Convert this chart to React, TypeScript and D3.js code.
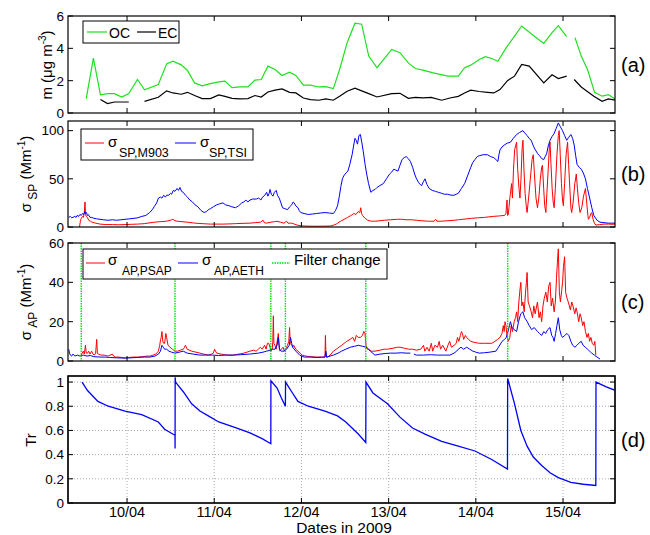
import React from 'react';
import * as d3 from 'd3';

type Pt = [number, number | null];

// x values are days of April 2009 (fractional)
const dayTicks = [10, 11, 12, 13, 14, 15];
const dayLabels = ['10/04', '11/04', '12/04', '13/04', '14/04', '15/04'];

const ticksA = [0, 2, 4, 6];
const ticksB = [0, 50, 100];
const ticksC = [0, 20, 40, 60];
const ticksD = [0, 0.2, 0.4, 0.6, 0.8, 1];
const labelsD = ['0', '0.2', '0.4', '0.6', '0.8', '1'];

const oc: Pt[] = [
  [9.532, 0.89], [9.614, 3.4], [9.695, 1.12], [9.776, 1.2], [9.857, 1.2], [9.938, 0.99], [10.02, 1.2],
  [10.12, 2.07], [10.201, 1.43], [10.359, 1.76], [10.454, 3.04], [10.526, 3.2], [10.622, 2.98], [10.693, 2.63],
  [10.775, 1.86], [10.861, 1.68], [10.956, 1.82], [11.052, 1.93], [11.123, 1.97], [11.205, 1.57], [11.291, 1.61],
  [11.386, 1.61], [11.467, 2.03], [11.539, 2.07], [11.616, 2.9], [11.697, 2.69], [11.778, 2.32], [11.864, 2.53],
  [11.936, 2.32], [12.022, 1.72], [12.103, 1.72], [12.199, 1.61], [12.28, 1.63], [12.366, 1.51], [12.438, 2.69],
  [12.524, 4.35], [12.614, 5.55], [12.691, 5.49], [12.772, 3.52], [12.867, 2.8], [13.035, 3.93], [13.13, 3.73],
  [13.226, 3.1], [13.307, 2.75], [13.393, 2.65], [13.512, 2.48], [13.68, 2.28], [13.799, 2.28], [13.871, 2.8],
  [13.942, 2.96], [14.039, 3.31], [14.11, 3.48], [14.182, 3.37], [14.253, 3.2], [14.349, 4.04], [14.444, 4.76],
  [14.526, 5.38], [14.635, 4.9], [14.779, 4.3], [14.874, 4.97], [14.946, 5.4], [15.042, 4.72], [15.09, null],
  [15.137, 4.66], [15.209, 3.52], [15.281, 2.69], [15.362, 1.28], [15.448, 1.04], [15.52, 1.14], [15.606, 0.83],
];

const ec: Pt[] = [
  [9.695, 0.83], [9.776, 0.58], [9.857, 0.68], [9.938, 0.68], [10.02, 0.68], [10.1, null], [10.201, 0.72],
  [10.359, 0.97], [10.454, 1.37], [10.526, 1.24], [10.622, 1.16], [10.693, 1.28], [10.775, 1.08], [10.861, 0.89],
  [10.956, 0.89], [11.052, 1.12], [11.123, 1.03], [11.205, 0.91], [11.291, 0.87], [11.386, 0.89], [11.467, 1.08],
  [11.539, 0.99], [11.616, 1.3], [11.697, 1.41], [11.778, 1.49], [11.864, 1.28], [11.936, 1.24], [12.022, 0.93],
  [12.103, 0.83], [12.199, 0.79], [12.28, 0.87], [12.366, 0.79], [12.438, 1.03], [12.524, 1.35], [12.614, 1.53],
  [12.691, 1.37], [12.772, 1.2], [12.867, 0.99], [13.035, 1.2], [13.13, 1.22], [13.226, 0.91], [13.307, 0.97],
  [13.393, 0.93], [13.488, 0.97], [13.608, 0.79], [13.703, 0.93], [13.799, 1.03], [13.871, 1.24], [13.942, 1.41],
  [14.039, 1.33], [14.134, 1.28], [14.206, 1.24], [14.277, 1.45], [14.363, 2.0], [14.444, 2.28], [14.526, 3.0],
  [14.612, 2.9], [14.779, 1.86], [14.874, 2.36], [14.946, 2.13], [15.042, 2.28], [15.09, null], [15.128, 2.07],
  [15.209, 1.61], [15.353, 1.04], [15.448, 0.72], [15.52, 0.87], [15.606, 0.79],
];

const spTSI: Pt[] = [
  [9.332, 10], [9.35, 11], [9.365, 9.5], [9.38, 10], [9.4, 11], [9.415, 10], [9.427, 12], [9.445, 11], [9.46, 13],
  [9.475, 12], [9.49, 14], [9.505, 13], [9.515, 16], [9.523, 14], [9.535, 15], [9.545, 12], [9.556, 13], [9.575, 10],
  [9.594, 10], [9.62, 9], [9.65, 8.5], [9.69, 8], [9.73, 7.5], [9.78, 7], [9.833, 7.5], [9.88, 7], [9.93, 7.5],
  [9.977, 8], [10.03, 8.5], [10.08, 9], [10.12, 9.5], [10.17, 11], [10.216, 12], [10.26, 15], [10.29, 18],
  [10.311, 21], [10.34, 25], [10.36, 30], [10.383, 31], [10.4, 30], [10.42, 33], [10.44, 31], [10.454, 33],
  [10.48, 33], [10.5, 35], [10.512, 34], [10.53, 38], [10.55, 37], [10.574, 40], [10.59, 38], [10.607, 41],
  [10.625, 37], [10.645, 36], [10.67, 33], [10.693, 31], [10.72, 28], [10.75, 26], [10.78, 23], [10.812, 21],
  [10.85, 17], [10.884, 15], [10.91, 16], [10.935, 18], [10.956, 19], [10.99, 21], [11.028, 23], [11.06, 24],
  [11.1, 25], [11.13, 23], [11.171, 22], [11.2, 21], [11.243, 20], [11.28, 22], [11.315, 25], [11.34, 26],
  [11.363, 28], [11.385, 26], [11.41, 28], [11.44, 29], [11.482, 29], [11.51, 30], [11.535, 28], [11.554, 31],
  [11.58, 33], [11.601, 36], [11.615, 32], [11.63, 35], [11.64, 39], [11.655, 34], [11.673, 32], [11.69, 36],
  [11.711, 38], [11.725, 33], [11.745, 30], [11.765, 25], [11.783, 20], [11.81, 19], [11.84, 18], [11.865, 21],
  [11.888, 23], [11.905, 26], [11.917, 25], [11.935, 22], [11.96, 20], [11.975, 17], [11.993, 15], [12.03, 14],
  [12.079, 13], [12.13, 13.5], [12.175, 14], [12.22, 14.5], [12.27, 15], [12.32, 14.5], [12.366, 14], [12.39, 17],
  [12.414, 22], [12.435, 32], [12.452, 42], [12.47, 50], [12.485, 53], [12.51, 56], [12.533, 58], [12.555, 65],
  [12.581, 75], [12.598, 84], [12.614, 92], [12.628, 90], [12.643, 86], [12.66, 95], [12.676, 96], [12.692, 88],
  [12.71, 78], [12.73, 65], [12.748, 55], [12.77, 45], [12.796, 36], [12.82, 38], [12.845, 39], [12.867, 41],
  [12.9, 43], [12.939, 45], [12.975, 50], [13.011, 55], [13.035, 57], [13.059, 60], [13.083, 59], [13.107, 58],
  [13.13, 64], [13.154, 70], [13.178, 72], [13.202, 73], [13.226, 71], [13.25, 68], [13.275, 62], [13.298, 55],
  [13.32, 50], [13.345, 46], [13.362, 44], [13.379, 43], [13.398, 47], [13.417, 50], [13.44, 44], [13.465, 40],
  [13.5, 38], [13.537, 37], [13.57, 36], [13.608, 35], [13.64, 34], [13.68, 34], [13.715, 33], [13.751, 33],
  [13.775, 34], [13.799, 35], [13.835, 40], [13.871, 45], [13.905, 53], [13.942, 62], [13.965, 67], [13.99, 70],
  [14.015, 73], [14.039, 74], [14.085, 75], [14.134, 75], [14.17, 73], [14.206, 72], [14.23, 70], [14.253, 68],
  [14.265, 75], [14.277, 80], [14.3, 83], [14.325, 85], [14.36, 87], [14.397, 88], [14.43, 92], [14.468, 96],
  [14.5, 98], [14.54, 100], [14.565, 97], [14.588, 95], [14.61, 92], [14.635, 90], [14.66, 84], [14.683, 80],
  [14.71, 76], [14.731, 74], [14.755, 71], [14.779, 70], [14.795, 73], [14.812, 76], [14.83, 84], [14.851, 90],
  [14.875, 94], [14.898, 97], [14.92, 102], [14.946, 108], [14.97, 104], [14.994, 100], [15.018, 95], [15.042, 90],
  [15.065, 93], [15.09, 96], [15.11, 92], [15.128, 85], [15.145, 74], [15.161, 65], [15.185, 62], [15.209, 60],
  [15.233, 56], [15.257, 50], [15.28, 40], [15.305, 30], [15.33, 20], [15.353, 12], [15.39, 7], [15.424, 5],
  [15.47, 4.5], [15.52, 4], [15.56, 4], [15.596, 4],
];

const spM903: Pt[] = [
  [9.455, 0], [9.465, 6], [9.475, 9], [9.49, 11], [9.5, 10], [9.51, 15], [9.518, 26], [9.524, 13], [9.532, 11],
  [9.545, 10], [9.56, 7], [9.58, 6], [9.6, 5], [9.64, 4], [9.69, 3], [9.76, 2.5], [9.833, 2.5], [9.9, 2.3],
  [9.977, 2.5], [10.05, 2.8], [10.12, 3], [10.2, 3.5], [10.311, 5], [10.38, 5.5], [10.45, 6], [10.5, 7],
  [10.526, 8], [10.55, 6.5], [10.574, 6], [10.63, 5.5], [10.693, 5], [10.78, 4], [10.86, 3.5], [10.956, 3],
  [11.03, 3], [11.1, 3], [11.17, 3.2], [11.243, 3.5], [11.33, 3.8], [11.41, 4], [11.47, 4.5], [11.53, 5],
  [11.56, 7], [11.575, 4.5], [11.6, 4], [11.65, 5], [11.69, 5.5], [11.72, 6], [11.76, 5], [11.8, 4], [11.83, 6],
  [11.845, 4], [11.888, 4], [11.92, 3], [11.95, 2], [12.0, 1.2], [12.05, 1], [12.12, 0.8], [12.2, 0.8],
  [12.27, 0.9], [12.33, 1], [12.37, 2], [12.4, 3], [12.43, 5], [12.45, 6], [12.49, 8], [12.53, 10], [12.57, 12],
  [12.6, 14], [12.625, 13], [12.65, 16], [12.67, 15], [12.68, 20], [12.69, 14], [12.7, 12], [12.73, 9],
  [12.76, 7], [12.8, 6], [12.85, 6], [12.9, 6.5], [12.95, 7], [13.02, 7.5], [13.1, 8], [13.15, 8], [13.2, 7.5],
  [13.26, 7.5], [13.32, 7], [13.38, 6.5], [13.45, 6], [13.52, 6], [13.54, 8], [13.555, 6], [13.6, 6], [13.68, 6.5],
  [13.75, 7], [13.8, 7.5], [13.85, 8], [13.9, 8.5], [13.95, 9], [14.02, 9.5], [14.1, 10], [14.15, 10.5], [14.2, 11],
  [14.27, 11.5], [14.33, 12], [14.345, 14], [14.352, 22], [14.358, 28], [14.364, 12], [14.372, 13], [14.38, 20],
  [14.39, 30], [14.397, 35], [14.41, 45], [14.42, 30], [14.432, 60], [14.445, 80], [14.458, 85], [14.468, 88],
  [14.48, 60], [14.495, 40], [14.506, 30], [14.518, 50], [14.53, 80], [14.54, 90], [14.552, 60], [14.565, 35],
  [14.578, 22], [14.588, 15], [14.605, 30], [14.625, 50], [14.645, 70], [14.659, 75], [14.672, 55], [14.69, 30],
  [14.707, 20], [14.722, 30], [14.74, 50], [14.755, 62], [14.764, 64], [14.778, 40], [14.79, 22], [14.803, 15],
  [14.815, 35], [14.83, 60], [14.845, 85], [14.851, 88], [14.862, 65], [14.875, 40], [14.888, 25], [14.898, 20],
  [14.912, 40], [14.93, 75], [14.946, 95], [14.956, 100], [14.968, 75], [14.982, 45], [14.994, 28], [15.004, 22],
  [15.018, 45], [15.035, 75], [15.052, 88], [15.064, 65], [15.078, 40], [15.09, 20], [15.099, 15], [15.115, 25],
  [15.135, 45], [15.152, 55], [15.165, 40], [15.18, 25], [15.195, 15], [15.215, 20], [15.235, 32], [15.257, 40],
  [15.272, 25], [15.285, 12], [15.291, 8], [15.305, 10], [15.32, 14], [15.329, 15], [15.345, 8], [15.36, 4],
  [15.376, 2], [15.42, 2.5], [15.47, 3], [15.52, 3], [15.56, 2.8], [15.596, 3],
];

const apPSAP: Pt[] = [
  [9.475, 3], [9.485, 4], [9.499, 5], [9.51, 3.5], [9.523, 8], [9.532, 4], [9.547, 4], [9.56, 5], [9.575, 3.5],
  [9.594, 5], [9.61, 3.5], [9.624, 3], [9.64, 4], [9.652, 11], [9.66, 4], [9.671, 3.5], [9.7, 3], [9.738, 3],
  [9.78, 2.5], [9.833, 3.5], [9.845, 2.5], [9.862, 2], [9.9, 2], [9.94, 1.8], [9.977, 1.5], [10.02, 1.8],
  [10.07, 2], [10.12, 2], [10.18, 2.2], [10.23, 2.5], [10.263, 2.5], [10.3, 3], [10.33, 3.5], [10.359, 5],
  [10.375, 8], [10.385, 11], [10.392, 12], [10.4, 15], [10.41, 10], [10.42, 9], [10.431, 9], [10.445, 14],
  [10.454, 12], [10.47, 8], [10.493, 7], [10.52, 6], [10.55, 5], [10.58, 5], [10.61, 5.5], [10.645, 6],
  [10.66, 7], [10.669, 8], [10.69, 6], [10.741, 5], [10.79, 4.5], [10.836, 4], [10.88, 3.5], [10.932, 3],
  [10.97, 3.5], [10.99, 4], [11.004, 6], [11.015, 5], [11.028, 4], [11.08, 3.5], [11.15, 3], [11.219, 3],
  [11.28, 3.5], [11.34, 4], [11.41, 5], [11.45, 5.5], [11.48, 5], [11.506, 6], [11.53, 7], [11.55, 6],
  [11.578, 8], [11.595, 6], [11.61, 9], [11.625, 9], [11.64, 7], [11.649, 5], [11.665, 6], [11.672, 10],
  [11.678, 23], [11.684, 9], [11.697, 8], [11.71, 6], [11.722, 10], [11.735, 14], [11.745, 7], [11.754, 5],
  [11.77, 6], [11.79, 7], [11.805, 5], [11.816, 6], [11.83, 7], [11.84, 8], [11.855, 10], [11.864, 17],
  [11.872, 9], [11.888, 8], [11.9, 7], [11.912, 8], [11.935, 6], [11.96, 5], [11.985, 4], [12.008, 3],
  [12.05, 2.5], [12.1, 2.2], [12.175, 2], [12.23, 2], [12.27, 2], [12.275, 13], [12.282, 2], [12.299, 2],
  [12.33, 3], [12.366, 5], [12.4, 6], [12.43, 7], [12.462, 8], [12.49, 9], [12.52, 10], [12.557, 11], [12.59, 12],
  [12.61, 10], [12.629, 13], [12.65, 12], [12.676, 12], [12.7, 13], [12.715, 15], [12.729, 14], [12.74, 8],
  [12.755, 6], [12.772, 6], [12.8, 5], [12.843, 5], [12.9, 5.5], [12.95, 6], [12.987, 6], [13.05, 6.5], [13.1, 7],
  [13.13, 7], [13.18, 6.5], [13.23, 6], [13.274, 6], [13.32, 5.5], [13.369, 6], [13.4, 8], [13.415, 5], [13.44, 7],
  [13.465, 5], [13.49, 9], [13.505, 5], [13.53, 8], [13.561, 7], [13.58, 10], [13.595, 6], [13.62, 8], [13.656, 5],
  [13.68, 8], [13.7, 10], [13.72, 7], [13.751, 8], [13.775, 9], [13.79, 12], [13.805, 10], [13.823, 13],
  [13.835, 15], [13.847, 14], [13.86, 11], [13.88, 13], [13.895, 12], [13.915, 11], [13.942, 10], [13.98, 9.5],
  [14.039, 9], [14.1, 9], [14.182, 9], [14.22, 10], [14.25, 11], [14.277, 12], [14.3, 14], [14.315, 18],
  [14.325, 15], [14.335, 20], [14.345, 18], [14.36, 12], [14.373, 10], [14.39, 12], [14.405, 18], [14.42, 15],
  [14.44, 20], [14.455, 22], [14.468, 25], [14.48, 20], [14.49, 28], [14.503, 35], [14.516, 40], [14.528, 28],
  [14.54, 30], [14.555, 25], [14.57, 35], [14.58, 40], [14.588, 45], [14.6, 30], [14.615, 28], [14.635, 25],
  [14.65, 22], [14.665, 28], [14.68, 24], [14.707, 30], [14.725, 22], [14.74, 25], [14.755, 20], [14.77, 28],
  [14.785, 32], [14.803, 35], [14.82, 30], [14.835, 38], [14.851, 40], [14.865, 28], [14.88, 32], [14.898, 25],
  [14.912, 30], [14.925, 42], [14.935, 50], [14.946, 57], [14.958, 35], [14.97, 30], [14.985, 36], [14.995, 40],
  [15.005, 48], [15.018, 53], [15.03, 35], [15.045, 32], [15.06, 30], [15.085, 26], [15.1, 30], [15.114, 28],
  [15.135, 24], [15.15, 27], [15.161, 25], [15.18, 20], [15.195, 24], [15.209, 22], [15.225, 18], [15.24, 20],
  [15.257, 15], [15.275, 12], [15.29, 14], [15.305, 10], [15.32, 12], [15.335, 9], [15.353, 8], [15.365, 10],
  [15.376, 3],
];

const apAETH: Pt[] = [
  [9.332, 6], [9.34, 4], [9.35, 3], [9.365, 2.5], [9.38, 3.5], [9.403, 2.5], [9.43, 3], [9.46, 2.5], [9.499, 3],
  [9.54, 2.5], [9.58, 2.8], [9.62, 2.2], [9.69, 2], [9.75, 2], [9.8, 1.8], [9.88, 1.6], [9.977, 1.5], [10.05, 1.6],
  [10.12, 1.8], [10.2, 2], [10.263, 2], [10.32, 2.5], [10.36, 3.5], [10.383, 5], [10.4, 8], [10.416, 7],
  [10.43, 6], [10.454, 6], [10.48, 5], [10.51, 4.5], [10.55, 4], [10.6, 4.5], [10.645, 5], [10.69, 4],
  [10.76, 3.5], [10.836, 3], [10.9, 3], [10.98, 3], [11.05, 2.8], [11.13, 3], [11.219, 3], [11.3, 3.2],
  [11.4, 3.5], [11.506, 4], [11.56, 4.5], [11.601, 5], [11.64, 5.5], [11.67, 6], [11.697, 6], [11.72, 8],
  [11.735, 12], [11.748, 6], [11.768, 5], [11.8, 5], [11.83, 6], [11.86, 8], [11.875, 12], [11.888, 9],
  [11.9, 7], [11.936, 5], [11.98, 3], [12.032, 2], [12.1, 2], [12.18, 1.8], [12.27, 2], [12.28, 5], [12.29, 2],
  [12.366, 3], [12.42, 4], [12.46, 5], [12.509, 6], [12.56, 7], [12.61, 7.5], [12.652, 8], [12.7, 7.5],
  [12.748, 7], [12.79, 5], [12.843, 3], [12.9, 3.5], [12.96, 3.8], [13.02, 4], [13.083, 4], [13.15, 4.2],
  [13.2, 4], [13.25, 4], [13.27, null], [13.29, 3.5], [13.321, 3], [13.4, 3], [13.48, 3.2], [13.561, 3],
  [13.64, 3], [13.703, 3], [13.75, 4], [13.78, 5], [13.799, 6], [13.83, 7], [13.86, 6], [13.895, 7], [13.93, 6],
  [13.966, 5], [14.0, 4.5], [14.039, 4], [14.1, 4.2], [14.16, 4.5], [14.23, 5], [14.26, 7], [14.301, 10],
  [14.33, 11], [14.349, 12], [14.37, 15], [14.385, 18], [14.397, 20], [14.415, 17], [14.44, 16], [14.468, 15],
  [14.49, 20], [14.515, 24], [14.54, 25], [14.56, 22], [14.59, 20], [14.612, 18], [14.64, 16], [14.67, 17],
  [14.707, 15], [14.73, 14], [14.755, 13], [14.78, 15], [14.8, 14], [14.825, 16], [14.851, 17], [14.87, 13],
  [14.885, 12], [14.898, 10], [14.915, 14], [14.93, 18], [14.946, 22], [14.962, 16], [14.98, 13], [14.994, 12],
  [15.02, 13], [15.045, 14], [15.066, 13], [15.09, 10], [15.11, 8], [15.137, 7], [15.16, 8], [15.18, 9],
  [15.209, 10], [15.23, 8], [15.255, 7], [15.281, 6], [15.305, 5], [15.329, 4], [15.36, 3], [15.39, 2], [15.424, 1],
];

const filterChanges = [9.475, 10.55, 11.649, 11.816, 12.738, 14.365];

const tr: Pt[] = [
  [9.484, 1.0], [9.547, 0.93], [9.666, 0.84], [9.785, 0.8], [9.977, 0.76], [10.168, 0.73], [10.359, 0.67],
  [10.431, 0.61], [10.55, 0.56], [10.551, 0.45], [10.552, 1.04], [10.556, 1.0], [10.645, 0.92], [10.741, 0.82],
  [10.836, 0.76], [10.932, 0.72], [11.052, 0.67], [11.219, 0.63], [11.41, 0.58], [11.554, 0.53], [11.649, 0.49],
  [11.65, 1.01], [11.721, 0.95], [11.769, 0.87], [11.816, 0.8], [11.818, 1.0], [11.888, 0.92], [11.96, 0.84],
  [12.079, 0.8], [12.27, 0.76], [12.414, 0.72], [12.509, 0.67], [12.652, 0.57], [12.738, 0.5], [12.74, 1.0],
  [12.82, 0.91], [12.987, 0.82], [13.13, 0.71], [13.274, 0.62], [13.417, 0.57], [13.608, 0.51], [13.799, 0.47],
  [13.99, 0.43], [14.182, 0.36], [14.363, 0.28], [14.365, 1.03], [14.444, 0.82], [14.516, 0.6], [14.588, 0.47],
  [14.659, 0.38], [14.755, 0.31], [14.851, 0.25], [14.946, 0.21], [15.09, 0.17], [15.233, 0.155], [15.376, 0.145],
  [15.378, 1.0], [15.496, 0.96], [15.606, 0.93],
];

const font = "'Liberation Sans', Arial, Helvetica, sans-serif";
const X0 = 68;
const X1 = 615;
const x = d3.scaleLinear().domain([9.323, 15.596]).range([X0, X1]);

const yA = d3.scaleLinear().domain([0, 6]).range([113, 16]);
const yB = d3.scaleLinear().domain([0, 110]).range([227, 121]);
const yC = d3.scaleLinear().domain([0, 60]).range([361, 243]);
const yD = d3.scaleLinear().domain([0, 1.05]).range([503, 376]);

function path(data: Pt[], y: d3.ScaleLinear<number, number>) {
  return d3.line<Pt>()
    .defined(d => d[1] != null)
    .x(d => x(d[0]))
    .y(d => y(d[1] as number))(data) || '';
}

function Frame(props: {
  y: d3.ScaleLinear<number, number>; ticks: number[]; labels?: string[]; tag: string; grid?: boolean;
}) {
  const { y, ticks, labels, tag, grid } = props;
  const [bottom, top] = y.range();
  const tl = 5;
  return (
    <g>
      {grid && dayTicks.map(d => (
        <line key={'gx' + d} x1={x(d)} x2={x(d)} y1={top} y2={bottom} stroke="#aaa" strokeDasharray="1 2" />
      ))}
      {grid && ticks.filter(t => t > 0).map(t => (
        <line key={'gy' + t} x1={X0} x2={X1} y1={y(t)} y2={y(t)} stroke="#aaa" strokeDasharray="1 2" />
      ))}
      <rect x={X0} y={top} width={X1 - X0} height={bottom - top} fill="none" stroke="#000" strokeWidth={1.2} />
      {dayTicks.map(d => (
        <g key={'t' + d}>
          <line x1={x(d)} x2={x(d)} y1={bottom} y2={bottom - tl} stroke="#000" />
          <line x1={x(d)} x2={x(d)} y1={top} y2={top + tl} stroke="#000" />
        </g>
      ))}
      {ticks.map((t, i) => (
        <g key={'y' + t}>
          <line x1={X0} x2={X0 + tl} y1={y(t)} y2={y(t)} stroke="#000" />
          <line x1={X1} x2={X1 - tl} y1={y(t)} y2={y(t)} stroke="#000" />
          <text x={X0 - 4} y={y(t)} dy="0.36em" textAnchor="end" fontSize={13.5}>
            {labels ? labels[i] : String(t)}
          </text>
        </g>
      ))}
      <text x={621} y={(top + bottom) / 2} dy="0.36em" fontSize={20}>{tag}</text>
    </g>
  );
}

export default function App() {
  const [cBottom, cTop] = yC.range();
  return (
    <svg width={650} height={535} style={{ position: 'absolute', left: 0, top: 0, background: '#fff' }}
      fontFamily={font}>
      <defs>
        {[['ca', yA], ['cb', yB], ['cc', yC], ['cd', yD]].map(([id, y]: any) => (
          <clipPath id={id} key={id}>
            <rect x={X0} y={y.range()[1]} width={X1 - X0} height={y.range()[0] - y.range()[1]} />
          </clipPath>
        ))}
      </defs>

      {/* (a) OC / EC */}
      <g clipPath="url(#ca)">
        <path d={path(oc, yA)} fill="none" stroke="#1ee01e" strokeWidth={1.2} />
        <path d={path(ec, yA)} fill="none" stroke="#000" strokeWidth={1.2} />
      </g>
      <Frame y={yA} ticks={ticksA} tag="(a)" />
      <g>
        <rect x={83} y={21} width={96} height={22} fill="#fff" stroke="#000" />
        <line x1={87} x2={107} y1={32} y2={32} stroke="#1ee01e" strokeWidth={1.2} />
        <text x={109} y={37.5} fontSize={14}>OC</text>
        <line x1={137} x2={156} y1={32} y2={32} stroke="#000" strokeWidth={1.2} />
        <text x={158} y={37.5} fontSize={14}>EC</text>
      </g>
      <text transform="translate(52,65) rotate(-90)" textAnchor="middle" fontSize={15}>
        m (μg m<tspan dy={-6} fontSize={10}>-3</tspan><tspan dy={6}>)</tspan>
      </text>

      {/* (b) scattering */}
      <g clipPath="url(#cb)">
        <path d={path(spM903, yB)} fill="none" stroke="#f00" strokeWidth={1} />
        <path d={path(spTSI, yB)} fill="none" stroke="#00f" strokeWidth={1} />
      </g>
      <Frame y={yB} ticks={ticksB} tag="(b)" />
      <g>
        <rect x={81} y={129} width={172} height={31} fill="#fff" stroke="#000" />
        <line x1={85} x2={104} y1={143} y2={143} stroke="#f00" />
        <text x={108} y={147} fontSize={15}>σ</text>
        <text x={119} y={157} fontSize={12.5}>SP,M903</text>
        <line x1={175} x2={196} y1={143} y2={143} stroke="#00f" />
        <text x={200} y={147} fontSize={15}>σ</text>
        <text x={209} y={157} fontSize={12.5}>SP,TSI</text>
      </g>
      <text transform="translate(31,174) rotate(-90)" textAnchor="middle" fontSize={15}>
        σ<tspan dy={6} fontSize={12}> SP</tspan><tspan dy={-6}> (Mm</tspan>
        <tspan dy={-6} fontSize={10}>-1</tspan><tspan dy={6}>)</tspan>
      </text>

      {/* (c) absorption */}
      <g clipPath="url(#cc)">
        <path d={path(apPSAP, yC)} fill="none" stroke="#f00" strokeWidth={1} />
        <path d={path(apAETH, yC)} fill="none" stroke="#00f" strokeWidth={1} />
        {filterChanges.map(d => (
          <line key={d} x1={x(d)} x2={x(d)} y1={cTop} y2={cBottom} stroke="#00e000" strokeWidth={1.4}
            strokeDasharray="1.5 1" />
        ))}
      </g>
      <Frame y={yC} ticks={ticksC} tag="(c)" />
      <g>
        <rect x={83} y={249} width={304} height={30} fill="#fff" stroke="#000" />
        <line x1={86} x2={105} y1={263} y2={263} stroke="#f00" />
        <text x={108} y={265} fontSize={15}>σ</text>
        <text x={122} y={275} fontSize={12}>AP,PSAP</text>
        <line x1={178} x2={198} y1={263} y2={263} stroke="#00f" />
        <text x={202} y={265} fontSize={15}>σ</text>
        <text x={214} y={275} fontSize={12}>AP,AETH</text>
        <line x1={272} x2={290} y1={263} y2={263} stroke="#00e000" strokeWidth={1.4} strokeDasharray="1.5 1" />
        <text x={294} y={265} fontSize={15}>Filter change</text>
      </g>
      <text transform="translate(31,302) rotate(-90)" textAnchor="middle" fontSize={15}>
        σ<tspan dy={6} fontSize={12}> AP</tspan><tspan dy={-6}> (Mm</tspan>
        <tspan dy={-6} fontSize={10}>-1</tspan><tspan dy={6}>)</tspan>
      </text>

      {/* (d) transmission */}
      <Frame y={yD} ticks={ticksD} labels={labelsD} tag="(d)" grid />
      <g clipPath="url(#cd)">
        <path d={path(tr, yD)} fill="none" stroke="#00f" strokeWidth={1.3} />
      </g>
      <rect x={X0} y={376} width={X1 - X0} height={127} fill="none" stroke="#000" strokeWidth={1.2} />
      {dayTicks.map((d, i) => (
        <text key={d} x={x(d)} y={517} textAnchor="middle" fontSize={14.5}>{dayLabels[i]}</text>
      ))}
      <text x={344} y={533} textAnchor="middle" fontSize={15.5}>Dates in 2009</text>
      <text transform="translate(36,440) rotate(-90)" textAnchor="middle" fontSize={15}>Tr</text>
    </svg>
  );
}
